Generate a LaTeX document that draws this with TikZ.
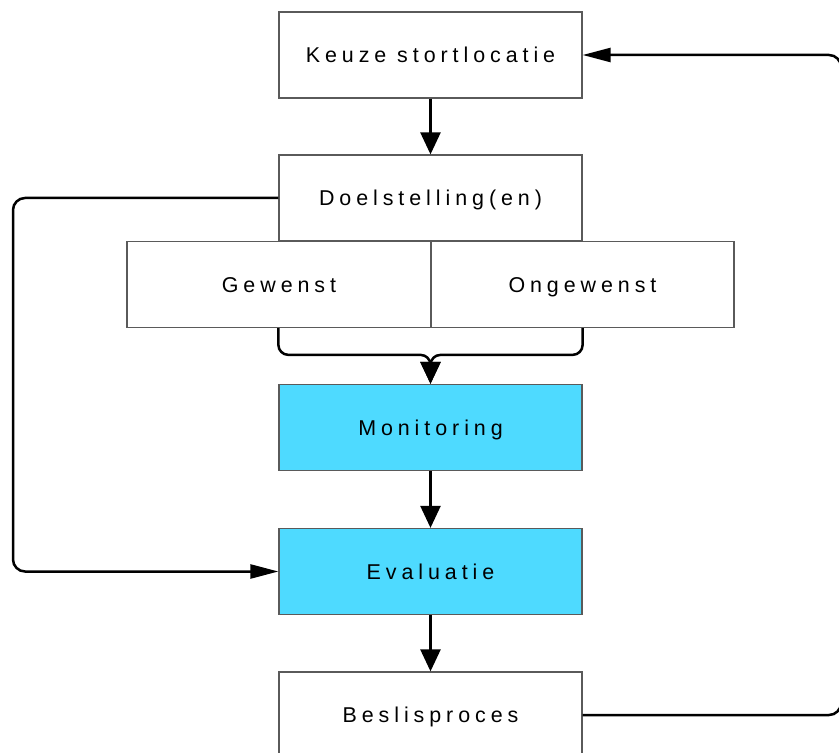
\documentclass[tikz,border=0pt]{standalone}
\usepackage{fontspec}
\setmainfont{Liberation Sans}[LetterSpace=23]
\usetikzlibrary{arrows.meta}
\definecolor{boxline}{RGB}{90,90,90}
\definecolor{monfill}{RGB}{78,218,255}
\tikzset{
	stap/.style={draw=boxline, line width=0.25mm, minimum width=60.6mm, minimum height=17.2mm, inner sep=0pt, text height=8.8pt, text depth=0pt, font=\fontsize{12.2}{14}\selectfont},
	flow/.style={line width=0.5mm, -{Triangle[length=4.4mm, width=4mm]}},
	terug/.style={line width=0.5mm, rounded corners=2.4mm, -{Triangle[length=5.6mm, width=2.8mm]}}
}

\begin{document}
\begin{tikzpicture}[x=0.2mm, y=-0.2mm]
			%%%%% START %%%%%
			
			\useasboundingbox (0, 0) rectangle (839, 753);
			
			\node[stap] (keuze) at (430.5, 55) {Keuze stortlocatie};
			\node[stap] (doel) at (430.5, 198) {Doelstelling(en)};
			\node[stap, minimum width=60.8mm] (gew) at (279, 284.5) {Gewenst};
			\node[stap] (ongew) at (582.5, 284.5) {Ongewenst};
			\node[stap, fill=monfill] (mon) at (430.5, 427.5) {Monitoring};
			\node[stap, fill=monfill] (eval) at (430.5, 571.5) {Evaluatie};
			\node[stap] (besl) at (430.5, 715) {Beslisproces};
			
			\coordinate (lft) at (13, 0);
			\coordinate (rgt) at (841, 0);
			\coordinate (samen) at ([yshift=5.8mm]mon.north);
			
			\draw[flow] (keuze) -- (doel);
			
			% beide takken komen samen boven Monitoring
			\draw[flow, rounded corners=2mm] (gew.south -| doel.west) |- (samen) -- (mon);
			\draw[flow, rounded corners=2mm] (ongew.south -| doel.east) |- (samen) -- (mon);
			
			\draw[flow] (mon) -- (eval);
			\draw[flow] (eval) -- (besl);
			
			\draw[terug] (doel.west) -- (doel.west -| lft) |- (eval.west);
			\draw[terug] (besl.east) -- (besl.east -| rgt) |- (keuze.east);
			
			%%%%% END %%%%%
\end{tikzpicture}
\end{document}
